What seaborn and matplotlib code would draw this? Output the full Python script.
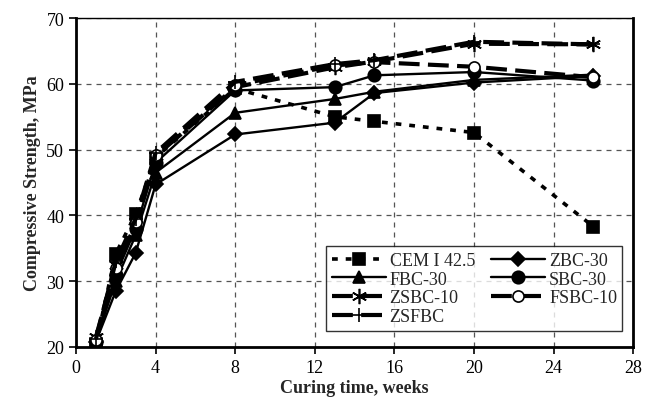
import matplotlib
matplotlib.use('Agg')
import matplotlib.pyplot as plt
import seaborn as sns
import pandas as pd

weeks = [1, 2, 3, 4, 8, 13, 15, 20, 26]

cem = [20.5, 34.2, 40.2, 48.8, 59.3, 55.0, 54.3, 52.6, 38.3]
zbc = [20.8, 28.5, 34.3, 44.7, 52.3, 54.1, 58.6, 60.2, 61.2]
fbc = [21.0, 30.0, 37.0, 46.5, 55.6, 57.7, 58.8, 60.6, 61.4]
sbc = [20.7, 31.0, 38.0, 48.0, 59.0, 59.5, 61.3, 61.8, 60.5]
zsbc = [21.5, 32.5, 38.5, 49.0, 59.5, 62.5, 63.4, 66.1, 66.0]
fsbc = [21.0, 32.0, 39.0, 49.2, 59.8, 62.8, 63.3, 62.6, 61.0]
zsfbc = [21.2, 33.0, 39.5, 49.5, 60.3, 63.0, 63.6, 66.4, 66.0]

names = ['CEM I 42.5', 'ZBC-30', 'FBC-30', 'SBC-30', 'ZSBC-10', 'FSBC-10', 'ZSFBC']
values = [cem, zbc, fbc, sbc, zsbc, fsbc, zsfbc]

df = pd.DataFrame({
    'week': weeks * len(names),
    'strength': [v for vals in values for v in vals],
    'mix': [n for n in names for _ in weeks],
})

styles = {
    'CEM I 42.5': dict(ls=(0, (1.6, 2.2)), lw=2.6, marker='s', ms=9, mfc='black'),
    'ZBC-30': dict(ls='-', lw=1.7, marker='D', ms=7, mfc='black'),
    'FBC-30': dict(ls='-', lw=1.7, marker='^', ms=9, mfc='black'),
    'SBC-30': dict(ls='-', lw=1.7, marker='o', ms=9, mfc='black'),
    'ZSBC-10': dict(ls=(0, (5, 2)), lw=3.0, marker=(6, 2, 0), ms=11, mfc='black'),
    'FSBC-10': dict(ls=(0, (5, 2)), lw=3.0, marker='o', ms=8, mfc='white'),
    'ZSFBC': dict(ls=(0, (5, 2)), lw=3.0, marker='+', ms=10, mfc='black'),
}

sns.set_style('white')
plt.rcParams['font.family'] = ['Liberation Serif', 'DejaVu Serif']

fig = plt.figure(figsize=(6.57, 4.06), dpi=100)
ax = fig.add_axes([0.1157, 0.143, 0.848, 0.810])

lines = {}
for name in names:
    st = styles[name]
    sub = df[df['mix'] == name]
    sns.lineplot(data=sub, x='week', y='strength', ax=ax, color='black',
                 linewidth=st['lw'], marker=st['marker'], markersize=st['ms'],
                 markerfacecolor=st['mfc'], markeredgecolor='black',
                 markeredgewidth=1.2, label=name, legend=False)
    ln = ax.get_lines()[-1]
    ln.set_linestyle(st['ls'])
    lines[name] = ln

ax.set_xlim(0, 28)
ax.set_ylim(20, 70)
ax.set_xticks(range(0, 29, 4))
ax.set_yticks(range(20, 71, 10))
ax.grid(True, color='#555555', linestyle=(0, (4, 4)), linewidth=0.9)
for s in ax.spines.values():
    s.set_color('black')
    s.set_linewidth(2.0)
ax.spines['top'].set_linewidth(1.0)
ax.tick_params(axis='both', direction='out', length=5, width=1.2, labelsize=13,
               bottom=True, left=True, colors='black')
ax.set_xlabel('Curing time, weeks', fontsize=13, fontweight='bold', labelpad=2)
ax.set_ylabel('Compressive Strength, MPa', fontsize=13, fontweight='bold', labelpad=4)

order = ['CEM I 42.5', 'FBC-30', 'ZSBC-10', 'ZSFBC', 'ZBC-30', 'SBC-30', 'FSBC-10']
leg = ax.legend([lines[n] for n in order], order, ncol=2, loc='lower right',
                bbox_to_anchor=(0.997, 0.022), fontsize=13, frameon=True, fancybox=False,
                edgecolor='black', handlelength=3.0, handletextpad=0.2,
                columnspacing=0.9, labelspacing=0.1, borderpad=0.3)
leg.get_frame().set_linewidth(1.0)

fig.savefig('out.png', dpi=100)
